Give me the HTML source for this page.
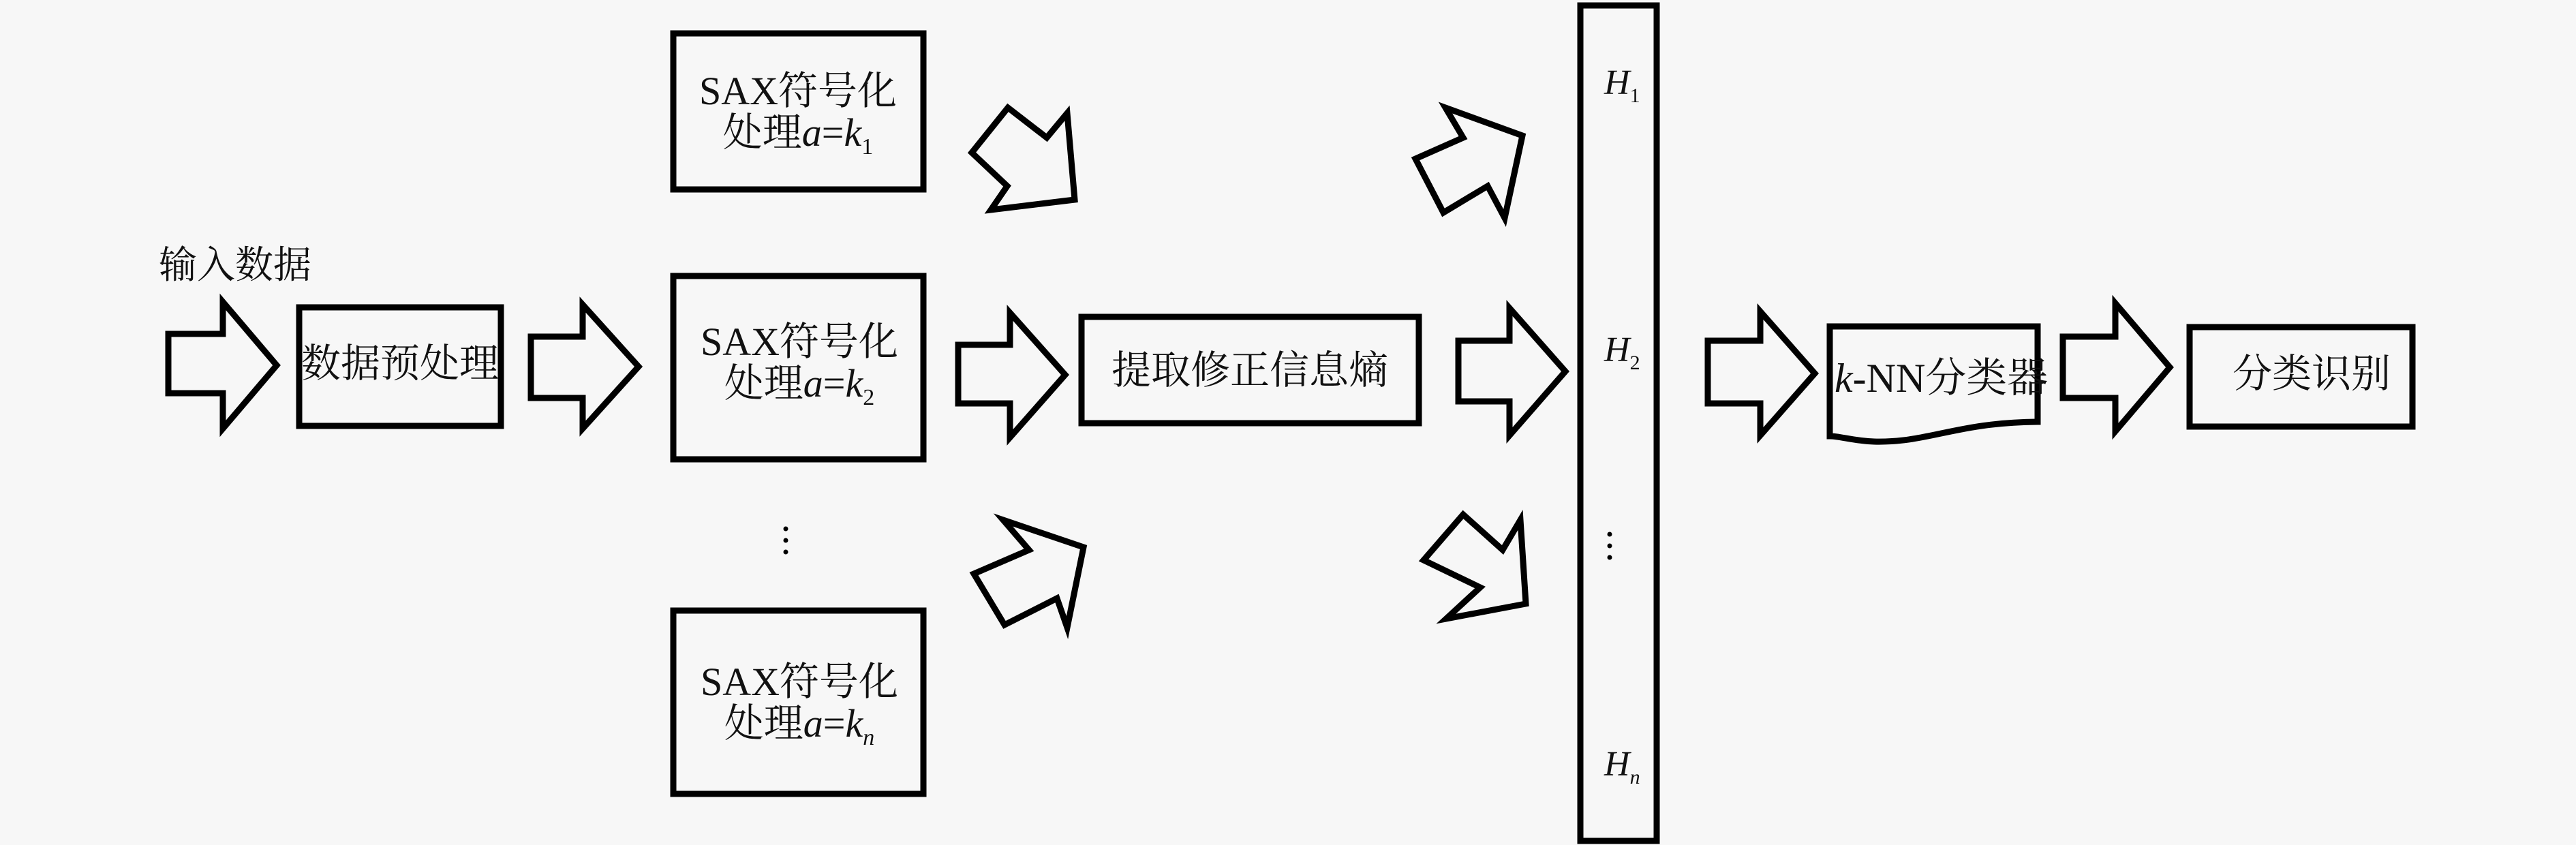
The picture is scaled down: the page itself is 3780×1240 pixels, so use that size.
<!DOCTYPE html>
<html><head><meta charset="utf-8"><style>
html,body{margin:0;padding:0;background:#f7f7f7;}
svg{display:block;}
text{font-family:"Liberation Serif","Noto Serif CJK SC",serif;fill:#111;}
</style></head><body>
<svg width="3780" height="1240" viewBox="0 0 3780 1240" xmlns="http://www.w3.org/2000/svg">
<rect width="3780" height="1240" fill="#f7f7f7"/>
<g fill="none" stroke="#000" stroke-width="9" stroke-linejoin="miter">
<!-- horizontal arrows -->
<polygon points="247,490 327,490 327,443 406,536 327,629 327,577 247,577"/>
<polygon points="779,494 855,494 855,447 937,538 855,629 855,584 779,584"/>
<polygon points="1406,506 1482,506 1482,459 1563,550 1482,642 1482,592 1406,592"/>
<polygon points="2140,500 2215,500 2215,452 2297,545 2215,639 2215,589 2140,589"/>
<polygon points="2506,500 2583,500 2583,457 2663,548 2583,639 2583,592 2506,592"/>
<polygon points="3027,494 3104,494 3104,445 3184,539 3104,633 3104,584 3027,584"/>
<!-- diagonal arrows -->
<polygon points="1426,224 1479,158 1536,202 1566,166 1577,293 1454,308 1478,273"/>
<polygon points="1429,842 1510,807 1472,763 1590,803 1566,921 1551,878 1474,917"/>
<polygon points="2077,233 2147,202 2121,158 2234,199 2208,320 2183,273 2118,312"/>
<polygon points="2089,822 2147,755 2205,807 2231,763 2239,886 2122,908 2172,862"/>
<!-- boxes -->
<rect x="439" y="451" width="296" height="174"/>
<rect x="988" y="49" width="367" height="229"/>
<rect x="988" y="405" width="367" height="269"/>
<rect x="988" y="896" width="367" height="269"/>
<rect x="1587" y="465" width="495" height="156"/>
<rect x="2319" y="8" width="112" height="1226"/>
<rect x="3213" y="480" width="327" height="146"/>
<path d="M2685,479 L2990,479 L2990,619 C2870,620 2830,650 2750,648 C2720,647 2700,640 2685,640 Z"/>
</g>
<g font-size="56">
<text x="233" y="408">输入数据</text>
<text x="587" y="553" text-anchor="middle" font-size="58">数据预处理</text>
<text x="1171" y="153" text-anchor="middle" font-size="58">SAX符号化</text>
<text x="1171" y="214" text-anchor="middle" font-size="58">处理<tspan font-style="italic">a</tspan>=<tspan font-style="italic">k</tspan><tspan font-size="34" dy="12">1</tspan></text>
<text x="1173" y="521" text-anchor="middle" font-size="58">SAX符号化</text>
<text x="1173" y="582" text-anchor="middle" font-size="58">处理<tspan font-style="italic">a</tspan>=<tspan font-style="italic">k</tspan><tspan font-size="34" dy="12">2</tspan></text>
<text x="1173" y="1020" text-anchor="middle" font-size="58">SAX符号化</text>
<text x="1173" y="1081" text-anchor="middle" font-size="58">处理<tspan font-style="italic">a</tspan>=<tspan font-style="italic">k</tspan><tspan font-size="34" dy="12" font-style="italic">n</tspan></text>
<text x="1834" y="563" text-anchor="middle" font-size="58">提取修正信息熵</text>
<text x="2692" y="575" font-size="60"><tspan font-style="italic">k</tspan>-NN分类器</text>
<text x="3392" y="568" text-anchor="middle" font-size="58">分类识别</text>
<text x="2354" y="138" font-style="italic" font-size="52">H<tspan font-size="30" dy="12" font-style="normal">1</tspan></text>
<text x="2354" y="530" font-style="italic" font-size="52">H<tspan font-size="30" dy="12" font-style="normal">2</tspan></text>
<text x="2354" y="1138" font-style="italic" font-size="52">H<tspan font-size="30" dy="12">n</tspan></text>
</g>
<g fill="#000">
<circle cx="1153" cy="776" r="3.5"/><circle cx="1153" cy="793" r="3.5"/><circle cx="1153" cy="810" r="3.5"/>
<circle cx="2362" cy="784" r="3.5"/><circle cx="2362" cy="801" r="3.5"/><circle cx="2362" cy="818" r="3.5"/>
</g>
</svg>
</body></html>
